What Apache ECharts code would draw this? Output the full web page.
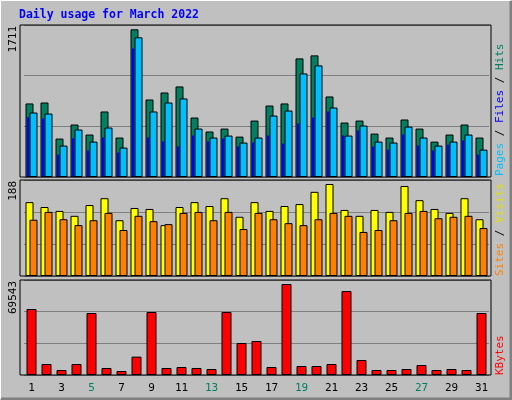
<!DOCTYPE html>
<html><head><meta charset="utf-8">
<script src="https://cdn.jsdelivr.net/npm/echarts@6/dist/echarts.min.js"></script>
<style>html,body{margin:0;padding:0;background:#c0c0c0}#c{width:512px;height:400px}</style>
</head><body><div id="c"></div>
<script>
const days = ['1','2','3','4','5','6','7','8','9','10','11','12','13','14','15','16','17','18','19','20','21','22','23','24','25','26','27','28','29','30','31'];
const weekendDays = ['5','6','12','13','19','20','26','27'];
const hits = [852,863,445,608,492,759,457,1711,898,979,1049,689,527,561,468,654,828,852,1374,1409,933,631,654,503,457,666,561,410,492,608,457];
const files = [747,735,364,550,410,573,341,1618,759,863,910,561,457,480,399,457,712,770,1200,1293,805,480,596,410,399,584,457,364,410,492,317];
const pages = [693,677,259,449,306,457,283,1490,457,410,352,480,410,445,352,399,480,387,619,689,759,480,538,352,317,492,364,306,375,422,259];
const visits = [151,141,133,123,145,159,114,139,137,104,141,151,143,159,121,151,133,143,147,172,188,135,123,135,131,184,155,137,129,159,116];
const sites = [115,131,116,104,114,129,94,123,112,106,129,131,114,131,96,129,116,108,104,116,129,123,90,94,114,129,133,118,121,123,98];
const kbytes = [50430,8400,3800,8400,47370,5350,3060,14010,48140,5350,6110,5350,4580,48140,24450,25980,6110,69543,6880,6880,8400,64180,11460,3820,3820,4580,7640,3820,4580,3820,47370];
const maxLabels = ['1711','188','69543'];

const mono = 'DejaVu Sans Mono';
const chart = echarts.init(document.getElementById('c'));
const grids = [
  {left:24, width:465, top:25, height:152},
  {left:24, width:465, top:180, height:96},
  {left:24, width:465, top:280, height:95}
];
function xa(g, showLabels){
  return {type:'category', data:days, gridIndex:g, boundaryGap:true,
    axisLine:{show:false}, axisTick:{show:false},
    axisLabel:{show:showLabels, fontFamily:mono, fontSize:11, margin:8,
      color:(v)=> weekendDays.includes(v) ? '#008060' : '#000'}};
}
function ya(g, max){
  return {type:'value', gridIndex:g, min:0, max:max, interval:max/3,
    axisLabel:{show:false}, axisLine:{show:false}, axisTick:{show:false},
    splitLine:{show:true, lineStyle:{color:'#808080', width:1}}};
}
const bs = {borderColor:'#000', borderWidth:1};
function frame(g){
  return {type:'rect', shape:{x:20, y:g.top, width:471, height:g.height}, style:{fill:null, stroke:'#000', lineWidth:1}, z:100};
}
function vtext(x, y, rich, str, align){
  return {type:'text', x:x, y:y, rotation:Math.PI/2, z:100,
    style:{text:str, rich:rich, font:'11px '+mono, align:align, verticalAlign:'middle', fill:'#000'}};
}
const rich = {
  p:{fill:'#00bfff', font:'11px '+mono}, f:{fill:'#0000ff', font:'11px '+mono}, h:{fill:'#008060', font:'11px '+mono},
  s:{fill:'#ff8000', font:'11px '+mono}, v:{fill:'#e0e000', font:'11px '+mono}, k:{fill:'#ff0000', font:'11px '+mono}, b:{fill:'#000', font:'11px '+mono}
};
chart.setOption({
  animation:false,
  backgroundColor:'#c0c0c0',
  grid:grids,
  xAxis:[xa(0,false), xa(0,false), xa(1,false), xa(2,true)],
  yAxis:[ya(0,1761), ya(1,196.2), ya(2,72600)],
  series:[
    {type:'bar', name:'Hits', xAxisIndex:0, yAxisIndex:0, data:hits, barWidth:8, barGap:'-50%', itemStyle:{color:'#008060', ...bs}},
    {type:'bar', name:'Files', xAxisIndex:0, yAxisIndex:0, data:files, barWidth:8, barGap:'-50%', itemStyle:{color:'#00bfff', ...bs}},
    {type:'bar', name:'Pages', xAxisIndex:1, yAxisIndex:0, data:pages, barWidth:2, barGap:'250%', itemStyle:{color:'#0000ff'}, z:3},
    {type:'bar', name:'spacer', xAxisIndex:1, yAxisIndex:0, data:days.map(()=>'-'), barWidth:2, barGap:'250%'},
    {type:'bar', name:'Visits', xAxisIndex:2, yAxisIndex:1, data:visits, barWidth:8, barGap:'-50%', itemStyle:{color:'#ffff00', ...bs}},
    {type:'bar', name:'Sites', xAxisIndex:2, yAxisIndex:1, data:sites, barWidth:8, barGap:'-50%', itemStyle:{color:'#ff8000', ...bs}},
    {type:'bar', name:'KBytes', xAxisIndex:3, yAxisIndex:2, data:kbytes, barWidth:10, itemStyle:{color:'#ff0000', ...bs}}
  ],
  graphic:[
    {type:'rect', shape:{x:0.5, y:0.5, width:510, height:398}, style:{fill:null, stroke:'#ffffff', lineWidth:1}},
    {type:'polyline', shape:{points:[[511,1],[511,399],[1,399]]}, style:{fill:null, stroke:'#808080', lineWidth:3}},
    {type:'text', x:19, y:15, style:{text:'Daily usage for March 2022', font:'bold 11.5px '+mono, fill:'#0000ff', verticalAlign:'middle'}},
    frame(grids[0]), frame(grids[1]), frame(grids[2]),
    vtext(13, 26, {}, maxLabels[0], 'right'),
    vtext(13, 181, {}, maxLabels[1], 'right'),
    vtext(13, 281, {}, maxLabels[2], 'right'),
    vtext(500, 176, rich, '{p|Pages}{b| / }{f|Files}{b| / }{h|Hits}', 'left'),
    vtext(500, 276, rich, '{s|Sites}{b| / }{v|Visits}', 'left'),
    vtext(500, 375, rich, '{k|KBytes}', 'left')
  ]
});
</script></body></html>
